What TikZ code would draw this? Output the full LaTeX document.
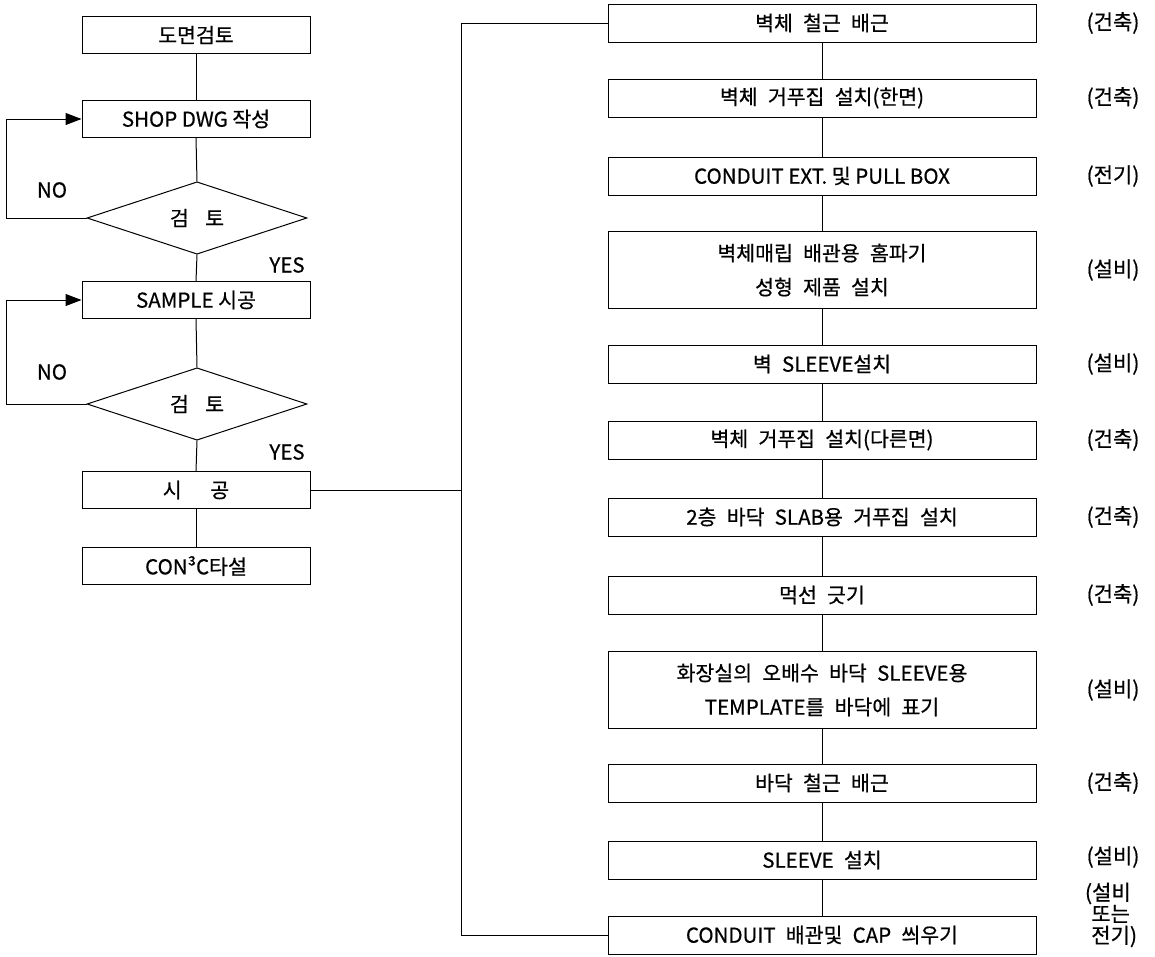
\documentclass[tikz,border=0pt]{standalone}
\usepackage{fontspec}
\setmainfont{Noto Sans CJK KR}[FakeBold=0.6]
\usetikzlibrary{shapes.geometric,arrows.meta}
\begin{document}
\begin{tikzpicture}[x=1pt,y=-1pt,
  every node/.style={font=\fontsize{20.5}{26}\selectfont},
  lbox/.style={draw, line width=1pt, minimum width=228pt, minimum height=37pt, inner sep=0pt},
  rbox/.style={draw, line width=1pt, minimum width=428pt, minimum height=38pt, inner sep=0pt, align=center},
  rbox2/.style={rbox, minimum height=77pt},
  dia/.style={draw, line width=1pt, shape=diamond, minimum width=220pt, minimum height=50pt, inner sep=0pt},
  lab/.style={inner sep=0pt},
  cat/.style={inner sep=0pt, font=\fontsize{21}{25}\selectfont},
  conn/.style={line width=1pt},
  back/.style={line width=1pt, -{Triangle[length=16pt,width=12pt]}}
]
\useasboundingbox (0,0) rectangle (1155,956);
% left column
\node[lbox] (dm) at (196,35) {도면검토};
\node[lbox] (shop) at (196,119) {SHOP DWG 작성};
\node[dia] (d1) at (197,218) {검\hspace{0.8em}토};
\node[lbox] (sample) at (196,300) {SAMPLE 시공};
\node[dia] (d2) at (197,404) {검\hspace{0.8em}토};
\node[lbox] (sigong) at (196,490) {시\hspace{1.4em}공};
\node[lbox] (con) at (196,566) {CON³C타설};
\node[lab] (no1) at (52,190) {NO};
\node[lab] (yes1) at (287,265) {YES};
\node[lab] (no2) at (52,372) {NO};
\node[lab] (yes2) at (287,452) {YES};
\draw[conn] (dm.south) -- (shop.north);
\draw[conn] (shop.south) -- (d1.north);
\draw[conn] (d1.south) -- (sample.north);
\draw[conn] (sample.south) -- (d2.north);
\draw[conn] (d2.south) -- (sigong.north);
\draw[conn] (sigong.south) -- (con.north);
\draw[back] (d1.west) -- ++(-80,0) |- (shop.west);
\draw[back] (d2.west) -- ++(-80,0) |- (sample.west);
% right column
\coordinate (busx) at (461,0);
\node[rbox] (r1) at (822,23) {벽체\hspace{0.5em}철근\hspace{0.5em}배근};
\node[rbox] (r2) at (822,98) {벽체\hspace{0.5em}거푸집\hspace{0.5em}설치(한면)};
\node[rbox] (r3) at (822,176) {CONDUIT EXT. 및 PULL BOX};
\node[rbox2] (r4) at (822,270) {벽체매립\hspace{0.5em}배관용\hspace{0.5em}홈파기\\[8pt]성형\hspace{0.5em}제품\hspace{0.5em}설치};
\node[rbox] (r5) at (822,364) {벽\hspace{0.5em}SLEEVE설치};
\node[rbox] (r6) at (822,440) {벽체\hspace{0.5em}거푸집\hspace{0.5em}설치(다른면)};
\node[rbox] (r7) at (822,517) {2층\hspace{0.5em}바닥\hspace{0.5em}SLAB용\hspace{0.5em}거푸집\hspace{0.5em}설치};
\node[rbox] (r8) at (822,595) {먹선\hspace{0.5em}긋기};
\node[rbox2] (r9) at (822,690) {화장실의\hspace{0.5em}오배수\hspace{0.5em}바닥\hspace{0.5em}SLEEVE용\\[8pt]TEMPLATE를\hspace{0.5em}바닥에\hspace{0.5em}표기};
\node[rbox] (r10) at (822,783) {바닥\hspace{0.5em}철근\hspace{0.5em}배근};
\node[rbox] (r11) at (822,860) {SLEEVE\hspace{0.5em}설치};
\node[rbox] (r12) at (822,935) {CONDUIT\hspace{0.5em}배관및\hspace{0.5em}CAP\hspace{0.5em}씌우기};
\foreach \a/\b in {r1/r2,r2/r3,r3/r4,r4/r5,r5/r6,r6/r7,r7/r8,r8/r9,r9/r10,r10/r11,r11/r12}
  \draw[conn] (\a.south) -- (\b.north);
\draw[conn] (r1.west) -- (r1.west -| busx) -- (r12.west -| busx) -- (r12.west);
\draw[conn] (sigong.east) -- (sigong.east -| busx);
% categories
\node[cat] (c1) at (1113,23) {(건축)};
\node[cat] (c2) at (1113,98) {(건축)};
\node[cat] (c3) at (1113,176) {(전기)};
\node[cat] (c4) at (1113,270) {(설비)};
\node[cat] (c5) at (1113,364) {(설비)};
\node[cat] (c6) at (1113,440) {(건축)};
\node[cat] (c7) at (1113,517) {(건축)};
\node[cat] (c8) at (1113,595) {(건축)};
\node[cat] (c9) at (1113,690) {(설비)};
\node[cat] (c10) at (1113,783) {(건축)};
\node[cat] (c11) at (1113,857) {(설비)};
\node[cat, align=left, font=\fontsize{21}{21.5}\selectfont] (c12) at (1111,915) {(설비\\\hspace{0.3em}또는\\\hspace{0.3em}전기)};
\end{tikzpicture}
\end{document}
